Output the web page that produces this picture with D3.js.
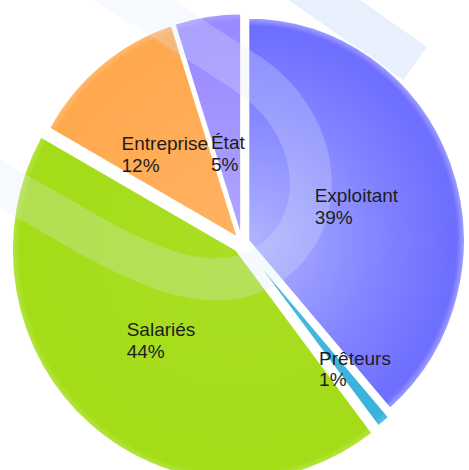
<!DOCTYPE html>
<html>
<head>
<meta charset="utf-8">
<script src="https://cdn.jsdelivr.net/npm/d3@7/dist/d3.min.js"></script>
<style>
  html, body { margin: 0; padding: 0; background: #fff; }
  svg { display: block; }
</style>
</head>
<body>
<svg id="chart" width="469" height="470"></svg>
<script>
"use strict";

// data
const categories = ["Exploitant", "Prêteurs", "Salariés", "Entreprise", "État"];
const shares = [39, 1, 44, 12, 5];
const percentLabels = ["39%", "1%", "44%", "12%", "5%"];

// colours: [centre, body, rim]
const palette = {
    "Exploitant": ["#b0b4ff", "#6f6fff", "#a3a3ff"],
    "Prêteurs":   ["#4cbde2", "#3ab2dc", "#5cc4e6"],
    "Salariés":   ["#aade24", "#a4dc18", "#b6e545"],
    "Entreprise": ["#ffb262", "#ffa94f", "#ffbb72"],
    "État":       ["#b0a6ff", "#9b8aff", "#ada2ff"]
};

// layout
const width = 469, height = 470;
const cx = 242, cy = 243, radius = 216, yStretch = 1.03;
const explode = {"Exploitant": 7, "Prêteurs": 8, "Salariés": 9, "Entreprise": 7, "État": 7};
const radiusScale = {"Exploitant": 1, "Prêteurs": 1, "Salariés": 1.037, "Entreprise": 1, "État": 1};
const labelRadius = {"Exploitant": 0.525, "Prêteurs": 0.73, "Salariés": 0.53, "Entreprise": 0.507, "État": 0.38};
const labelShift = {"Exploitant": 3, "Prêteurs": -4, "Salariés": 0, "Entreprise": -2.4, "État": 0};
const fontSize = 19, lineHeight = 21.5;

const svg = d3.select("#chart");
const defs = svg.append("defs");

// background watermark band
svg.append("line")
    .attr("class", "watermark")
    .attr("x1", 300).attr("y1", -17).attr("x2", 415).attr("y2", 63.5)
    .attr("stroke", "#e7f0fc").attr("stroke-width", 41);

let pie = d3.pie().sort(null).value(d => d)(shares);

let plot = svg.append("g")
    .attr("class", "pie")
    .attr("transform", `translate(${cx}, ${cy}) scale(1, ${yStretch})`);

pie.forEach((p, i) => {
    const name = categories[i];
    const r = radius * radiusScale[name];
    const mid = (p.startAngle + p.endAngle) / 2;
    const dx = Math.sin(mid) * explode[name],
          dy = -Math.cos(mid) * explode[name];

    const grad = defs.append("radialGradient")
        .attr("id", `grad${i}`)
        .attr("gradientUnits", "userSpaceOnUse")
        .attr("cx", 0).attr("cy", 0).attr("r", r);
    const c = palette[name];
    grad.append("stop").attr("offset", "0").attr("stop-color", c[0]);
    grad.append("stop").attr("offset", "0.6").attr("stop-color", d3.interpolateRgb(c[0], c[1])(0.7));
    grad.append("stop").attr("offset", "0.93").attr("stop-color", c[1]);
    grad.append("stop").attr("offset", "0.965").attr("stop-color", c[1]);
    grad.append("stop").attr("offset", "1").attr("stop-color", c[2]);

    const arc = d3.arc().innerRadius(0).outerRadius(r);

    plot.append("g")
        .attr("class", "slice")
        .attr("transform", `translate(${dx}, ${dy})`)
        .append("path")
        .attr("d", arc(p))
        .attr("fill", `url(#grad${i})`)
        .attr("stroke", "#fff")
        .attr("stroke-width", 1.5)
        .attr("stroke-linejoin", "round");
});

// translucent swoosh over the pie
svg.append("path")
    .attr("class", "swoosh")
    .attr("d", "M 95,-25 L 245,72 C 318,118 335,215 272,262 C 218,300 150,272 60,218 L -25,170")
    .attr("fill", "none")
    .attr("stroke", "#dde9f9")
    .attr("stroke-width", 42)
    .attr("opacity", 0.26);

// labels
let labels = svg.append("g").attr("class", "labels");
pie.forEach((p, i) => {
    const name = categories[i];
    const mid = (p.startAngle + p.endAngle) / 2;
    const ang = mid + labelShift[name] * Math.PI / 180;
    const rl = radius * labelRadius[name];
    const px = cx + Math.sin(mid) * explode[name] + Math.sin(ang) * rl;
    const py = cy + (-Math.cos(mid) * explode[name] - Math.cos(ang) * rl) * yStretch;

    const t = labels.append("text")
        .attr("font-family", "'Liberation Sans', Arial, sans-serif")
        .attr("font-size", fontSize)
        .attr("fill", "#1d1d1d");
    t.append("tspan").attr("x", 0).attr("dy", 0).text(name);
    t.append("tspan").attr("x", 0).attr("dy", lineHeight).text(percentLabels[i]);

    const w = t.node().getBBox().width;
    t.attr("transform", `translate(${px - w / 2}, ${py - 3})`);
});
</script>
</body>
</html>
